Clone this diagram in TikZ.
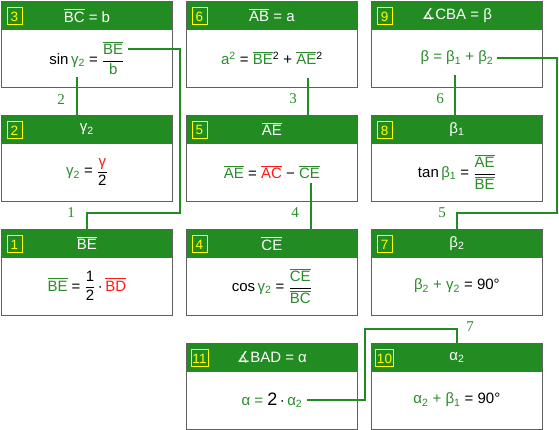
\documentclass[tikz,border=0pt]{standalone}
\usepackage{fontspec}
\usepackage{amsmath}
\setmainfont{Liberation Sans}
\newfontfamily\dejavu{DejaVu Sans}
\newfontfamily\lserif{Liberation Serif}
\usetikzlibrary{calc}
\definecolor{hdr}{HTML}{228B22}
\definecolor{gtxt}{HTML}{2A8C2A}
\definecolor{rtxt}{HTML}{FF1A1A}
\definecolor{bord}{HTML}{606060}
\definecolor{ylw}{HTML}{FFFF00}
\newcommand{\ov}[1]{$\overline{\text{#1}}$}
\newcommand{\g}[1]{\textcolor{gtxt}{#1}}
\newcommand{\rd}[1]{\textcolor{rtxt}{#1}}
\newcommand{\sub}[1]{\textsubscript{#1}}
\newcommand{\fr}[2]{$\displaystyle\frac{\text{#1}}{\text{#2}}$}
\newcommand{\mkcard}[6]{%
  \node[cardbox] (c#1) at (#2,#3) {};
  \node[hdrbox] (h#1) at (#2,#3) {};
  \node[hdrtext] (ht#1) at (h#1.center) {#5};
  \node[numbox] (n#1) at ([xshift=13.5pt,yshift=-1pt]h#1.west) {#4};
  \node[formula] (f#1) at ([yshift=-57pt]c#1.north) {#6};
}
\begin{document}
\begin{tikzpicture}[x=1pt,y=-1pt,
  hdrbox/.style={draw=bord,fill=hdr,minimum width=171pt,minimum height=28pt,inner sep=0pt,anchor=north west,line width=0.8pt},
  cardbox/.style={draw=bord,fill=white,minimum width=171pt,minimum height=86pt,inner sep=0pt,anchor=north west,line width=0.8pt},
  hdrtext/.style={text=white,font=\fontsize{15}{17}\selectfont,inner sep=0pt},
  numbox/.style={draw=ylw,text=ylw,line width=0.9pt,font=\fontsize{13.5}{15}\selectfont,inner sep=1.5pt,minimum width=15pt,minimum height=17pt},
  formula/.style={font=\fontsize{15}{17}\selectfont,inner sep=0pt},
  conn/.style={draw=hdr,line width=2pt},
  lbl/.style={text=gtxt,font=\lserif\fontsize{15}{17}\selectfont,inner sep=0pt}]
\fill[white] (0,0) rectangle (559,430);
\useasboundingbox (0,0) rectangle (559,430);
\mkcard{3}{1}{1}{3}{\ov{BC} = b}{sin\,\g{γ\sub{2}} = \fr{\g{\ov{BE}}}{\g{b}}}
\mkcard{6}{186}{1}{6}{\ov{AB} = a}{\g{a\textsuperscript{2}} = \g{\ov{BE}}\textsuperscript{2} + \g{\ov{AE}}\textsuperscript{2}}
\mkcard{9}{371}{1}{9}{{\dejavu ∡}CBA = β}{\g{β = β\sub{1} + β\sub{2}}}
\mkcard{2}{1}{115}{2}{γ\sub{2}}{\g{γ\sub{2}} = \fr{\rd{γ}}{2}}
\mkcard{5}{186}{115}{5}{\ov{AE}}{\g{\ov{AE}} = \rd{\ov{AC}} − \g{\ov{CE}}}
\mkcard{8}{371}{115}{8}{β\sub{1}}{tan\,\g{β\sub{1}} = \fr{\g{\ov{AE}}}{\g{\ov{BE}}}}
\mkcard{1}{1}{229}{1}{\ov{BE}}{\g{\ov{BE}} = \fr{1}{2}\,·\,\rd{\ov{BD}}}
\mkcard{4}{186}{229}{4}{\ov{CE}}{cos\,\g{γ\sub{2}} = \fr{\g{\ov{CE}}}{\g{\ov{BC}}}}
\mkcard{7}{371}{229}{7}{β\sub{2}}{\g{β\sub{2} + γ\sub{2}} = 90°}
\mkcard{11}{186}{343}{11}{{\dejavu ∡}BAD = α}{\g{α =} {\fontsize{18}{20}\selectfont 2}\,·\,\g{α\sub{2}}}
\mkcard{10}{371}{343}{10}{α\sub{2}}{\g{α\sub{2} + β\sub{1}} = 90°}
% connector ends
\coordinate (s1) at (128,49);
\coordinate (k1) at (180,213);
\coordinate (s2) at (77,77);
\coordinate (s3) at (308,78);
\coordinate (s4) at (311,183);
\coordinate (s5) at (497,58);
\coordinate (k5) at (557,213);
\coordinate (s6) at (455,75);
\coordinate (s7) at (307,400);
\coordinate (k7) at (365,329);
\draw[conn] (s1) -| (k1) -| (h1.north);
\draw[conn] (s2) -- (s2 |- h2.north);
\draw[conn] (s3) -- (s3 |- h5.north);
\draw[conn] (s4) -- (s4 |- h4.north);
\draw[conn] (s5) -| (k5) -| (h7.north);
\draw[conn] (s6) -- (s6 |- h8.north);
\draw[conn] (s7) -| (k7) -| (h10.north);
\node[lbl] (l1) at (71,213) {1};
\node[lbl] (l2) at (61,100) {2};
\node[lbl] (l3) at (293,99) {3};
\node[lbl] (l4) at (295,213) {4};
\node[lbl] (l5) at (442,213) {5};
\node[lbl] (l6) at (440,99) {6};
\node[lbl] (l7) at (470,327) {7};
\end{tikzpicture}
\end{document}
